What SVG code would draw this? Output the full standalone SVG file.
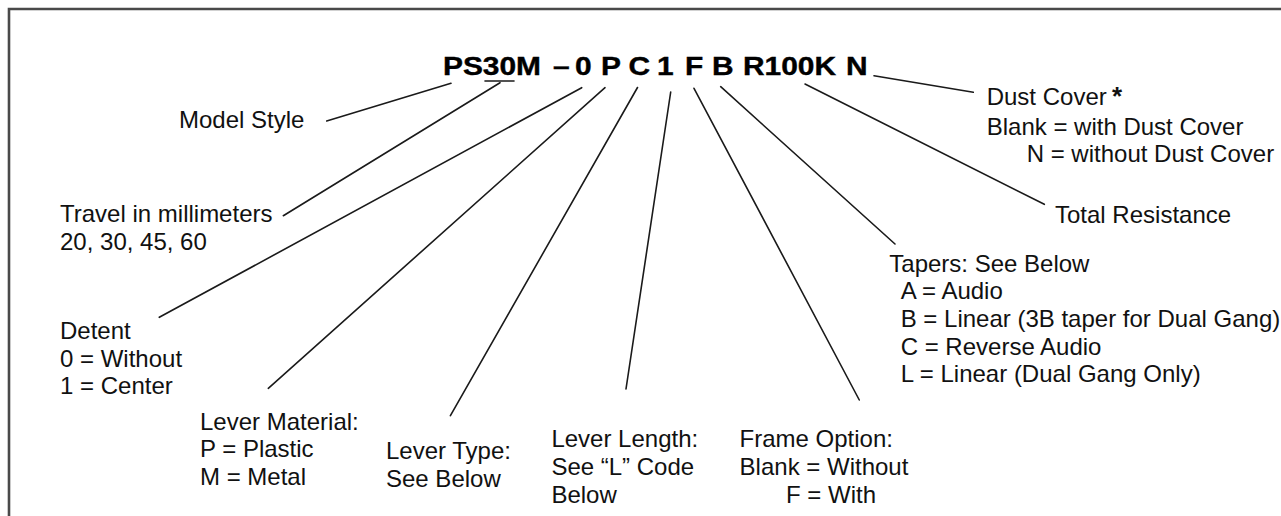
<svg xmlns="http://www.w3.org/2000/svg" width="1281" height="516" viewBox="0 0 1281 516">
<style>
.lbl{font-family:"Liberation Sans",Arial,sans-serif;font-size:24px;fill:#111}
.code{font-family:"Liberation Sans",Arial,sans-serif;font-weight:bold;font-size:26px;fill:#000;stroke:#000;stroke-width:0.4}
.ln{stroke:#1a1a1a;stroke-width:1.6;fill:none;stroke-linecap:round}
.frame{stroke:#4a4a4a;stroke-width:2.6;fill:none}
</style>
<rect width="1281" height="516" fill="#fff"/>
<path class="frame" d="M9,520 V9 H1285"/>
<g id="code">
<text class="code" transform="translate(443,75) scale(1.15,1)"><tspan x="0">PS30M</tspan><tspan x="95.7">–</tspan><tspan x="114.8">0</tspan><tspan x="137.4">P</tspan><tspan x="161.3">C</tspan><tspan x="186.1">1</tspan><tspan x="210.4">F</tspan><tspan x="233.9">B</tspan><tspan x="260.9">R100K</tspan><tspan x="350.4">N</tspan></text>
<line class="ln" x1="485" y1="81" x2="514" y2="81"/>
</g>
<g id="connectors">
<line class="ln" x1="451" y1="83.3" x2="326.7" y2="121"/>
<line class="ln" x1="500" y1="82.7" x2="283.3" y2="215.7"/>
<line class="ln" x1="581.7" y1="87.7" x2="159.3" y2="317.3"/>
<line class="ln" x1="605" y1="87.7" x2="268.3" y2="388.3"/>
<line class="ln" x1="637.5" y1="87.5" x2="450.4" y2="415.7"/>
<line class="ln" x1="670.7" y1="92" x2="626" y2="389"/>
<line class="ln" x1="694" y1="88.3" x2="859.3" y2="400"/>
<line class="ln" x1="720.7" y1="86.7" x2="895" y2="244"/>
<line class="ln" x1="805" y1="84" x2="1044.3" y2="204.3"/>
<line class="ln" x1="874" y1="75.7" x2="973.3" y2="92.3"/>
</g>
<g id="model-style"><text class="lbl" x="179" y="128">Model Style</text></g>
<g id="travel"><text class="lbl" x="60" y="221.5">Travel in millimeters</text><text class="lbl" x="60" y="250">20, 30, 45, 60</text></g>
<g id="detent"><text class="lbl" x="60" y="339">Detent</text><text class="lbl" x="60" y="366.5">0 = Without</text><text class="lbl" x="60" y="393.5">1 = Center</text></g>
<g id="lever-material"><text class="lbl" x="200" y="430">Lever Material:</text><text class="lbl" x="200" y="457.3">P = Plastic</text><text class="lbl" x="200" y="485">M = Metal</text></g>
<g id="lever-type"><text class="lbl" x="386" y="458.5">Lever Type:</text><text class="lbl" x="386" y="486.5">See Below</text></g>
<g id="lever-length"><text class="lbl" x="551.4" y="447">Lever Length:</text><text class="lbl" x="551.4" y="474.6">See “L” Code</text><text class="lbl" x="551.4" y="503">Below</text></g>
<g id="frame-option"><text class="lbl" x="739.6" y="447">Frame Option:</text><text class="lbl" x="739.6" y="474.6">Blank = Without</text><text class="lbl" x="786" y="503">F = With</text></g>
<g id="tapers"><text class="lbl" x="889.3" y="271.7">Tapers: See Below</text><text class="lbl" x="900.7" y="298.5">A = Audio</text><text class="lbl" x="900.7" y="326.7">B = Linear (3B taper for Dual Gang)</text><text class="lbl" x="900.7" y="355">C = Reverse Audio</text><text class="lbl" x="900.7" y="381.7">L = Linear (Dual Gang Only)</text></g>
<g id="total-resistance"><text class="lbl" x="1055" y="223.3">Total Resistance</text></g>
<g id="dust-cover"><text class="lbl" x="986.7" y="105">Dust Cover <tspan x="1112" style="font-weight:bold;font-size:26px">*</tspan></text><text class="lbl" x="986.7" y="135">Blank = with Dust Cover</text><text class="lbl" x="1026.7" y="161.7">N = without Dust Cover</text></g>
</svg>
